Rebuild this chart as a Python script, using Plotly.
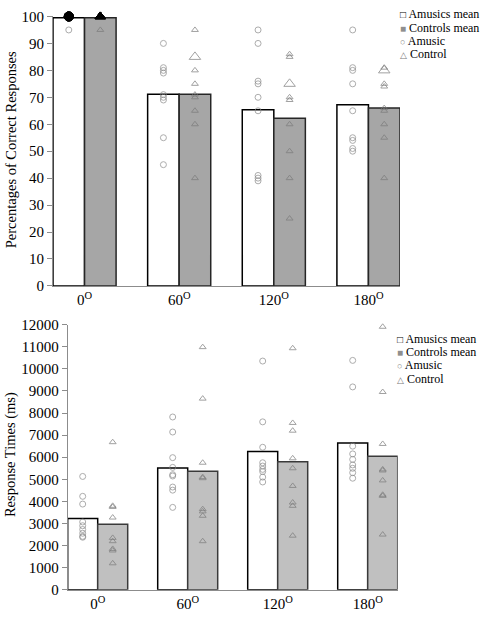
import plotly.graph_objects as go

# ---------------- data ----------------
angles = ["0", "60", "120", "180"]

acc_amusics_mean = [99.5, 71.1, 65.4, 67.2]
acc_controls_mean = [99.5, 71.1, 62.2, 66.0]
acc_amusic = [
    [100, 100, 100, 100, 100, 100, 100, 100, 95],
    [90, 81, 80, 79, 71, 70, 69, 55, 45],
    [95, 90, 76, 75, 70, 65, 41, 40, 39],
    [95, 81, 80, 75, 65, 55, 54, 51, 50],
]
acc_control = [
    [100, 100, 100, 100, 100, 100, 100, 100, 95],
    [95, 85, 80, 75, 71, 70, 65, 60, 40],
    [86, 85, 75, 70, 69, 60, 50, 40, 25],
    [81, 80, 75, 74, 66, 65, 60, 55, 40],
]

rt_amusics_mean = [3230, 5510, 6260, 6640]
rt_controls_mean = [2970, 5360, 5800, 6040]
rt_amusic = [
    [5130, 4230, 3880, 3070, 2900, 2730, 2560, 2420, 2380],
    [7820, 7140, 5980, 5540, 5210, 5150, 4650, 4510, 3730],
    [10350, 7600, 6450, 5750, 5600, 5450, 5350, 5100, 4880],
    [10380, 9180, 6500, 6150, 5900, 5650, 5500, 5300, 5050],
]
rt_control = [
    [6680, 3800, 3750, 3270, 2350, 2200, 1850, 1780, 1200],
    [10980, 8650, 5750, 5100, 5050, 3650, 3550, 3350, 2200],
    [10930, 7550, 7200, 5950, 5500, 4700, 3950, 3800, 2450],
    [11900, 8950, 6600, 5450, 5400, 4950, 4300, 4250, 2500],
]

legend_labels = ["Amusics mean", "Controls mean", "Amusic", "Control"]

# ---------------- styling ----------------
W, H = 484, 618
FONT = "Liberation Serif"
GRAY_LINE = "#8c8c8c"
PT_COL_C = "#8a8a8a"
PT_COL_T = "#7a7a7a"
# individual control points drawn with an enlarged marker in the original
enlarged_control = {(1, 85), (2, 75), (3, 80)}

idx = list(range(len(angles)))
tick_text = [f"{a}<sup>O</sup>" for a in angles]
half = 1 / 6  # centre offset of each bar in a two-bar group with bargap 1/3


def px_x(p):
    return p / W


def px_y(p):
    return 1 - p / H


def scatter_points(groups, side, symbol, color, xa, ya, enlarged=None):
    xs, ys, sizes, fills, lines = [], [], [], [], []
    for i, vals in enumerate(groups):
        for v in vals:
            xs.append(i + side * half)
            ys.append(v)
            dup = vals.count(v)
            if dup >= 3:
                sizes.append(9)
                fills.append("black")
                lines.append("black")
            else:
                big = enlarged is not None and (i, v) in enlarged
                sizes.append(10 if big else 6)
                fills.append("rgba(0,0,0,0)")
                lines.append(color)
    return go.Scatter(
        x=xs, y=ys, mode="markers", xaxis=xa, yaxis=ya, showlegend=False,
        cliponaxis=False, hoverinfo="skip",
        marker=dict(symbol=symbol, size=sizes, color=fills,
                    line=dict(color=lines, width=1)),
    )


fig = go.Figure()

# ---- top panel: accuracy ----
fig.add_trace(go.Bar(x=idx, y=acc_amusics_mean, name=legend_labels[0], xaxis="x", yaxis="y",
                     marker=dict(color="white", line=dict(color="black", width=1.5)),
                     showlegend=False))
fig.add_trace(go.Bar(x=idx, y=acc_controls_mean, name=legend_labels[1], xaxis="x", yaxis="y",
                     marker=dict(color="#a6a6a6", line=dict(color="#262626", width=1.5)),
                     showlegend=False))
fig.add_trace(scatter_points(acc_amusic, -1, "circle", PT_COL_C, "x", "y"))
fig.add_trace(scatter_points(acc_control, 1, "triangle-up", PT_COL_T, "x", "y", enlarged_control))

# ---- bottom panel: response times ----
fig.add_trace(go.Bar(x=idx, y=rt_amusics_mean, name=legend_labels[0], xaxis="x2", yaxis="y2",
                     marker=dict(color="white", line=dict(color="black", width=1.5)),
                     showlegend=False))
fig.add_trace(go.Bar(x=idx, y=rt_controls_mean, name=legend_labels[1], xaxis="x2", yaxis="y2",
                     marker=dict(color="#c0c0c0", line=dict(color="#3a3a3a", width=1.5)),
                     showlegend=False))
fig.add_trace(scatter_points(rt_amusic, -1, "circle", PT_COL_C, "x2", "y2"))
fig.add_trace(scatter_points(rt_control, 1, "triangle-up", PT_COL_T, "x2", "y2"))

tickfont = dict(family=FONT, size=15, color="black")
xcommon = dict(range=[-1 / 3, 3 + 1 / 3], tickmode="array", tickvals=idx, ticktext=tick_text,
               showline=True, linecolor=GRAY_LINE, linewidth=1, ticks="", showgrid=False,
               zeroline=False, tickfont=tickfont, fixedrange=True)
ycommon = dict(showline=True, linecolor=GRAY_LINE, linewidth=1, ticks="outside", ticklen=5,
               tickcolor=GRAY_LINE, showgrid=False, zeroline=False, tickfont=tickfont,
               fixedrange=True, tickformat="d")

fig.update_layout(
    width=W, height=H, autosize=False,
    margin=dict(l=0, r=0, t=0, b=0),
    paper_bgcolor="white", plot_bgcolor="white",
    barmode="group", bargap=1 / 3, bargroupgap=0,
    font=dict(family=FONT, color="black"),
    showlegend=False,
    xaxis=dict(domain=[px_x(53), px_x(400)], anchor="y", **xcommon),
    yaxis=dict(domain=[px_y(285.3), px_y(8.7)], anchor="x", range=[0, 100], dtick=10, **ycommon),
    xaxis2=dict(domain=[px_x(67.7), px_x(397.7)], anchor="y2", **xcommon),
    yaxis2=dict(domain=[px_y(597.3), px_y(325)], anchor="x2", range=[0, 12000], dtick=1000,
                **ycommon),
)

# ---- axis titles ----
ann = []
ann.append(dict(text="Percentages of Correct Responses", x=px_x(11), y=px_y(146),
                xref="paper", yref="paper", xanchor="center", yanchor="middle",
                textangle=-90, showarrow=False,
                font=dict(family=FONT, size=14.5, color="black")))
ann.append(dict(text="Response Times (ms)", x=px_x(10), y=px_y(459),
                xref="paper", yref="paper", xanchor="center", yanchor="middle",
                textangle=-90, showarrow=False,
                font=dict(family=FONT, size=14.5, color="black")))

# ---- legends (glyph + text) ----
glyphs = [
    '<span style="color:black;font-size:10px">□</span>',
    '<span style="color:#8f8f8f;font-size:10px">■</span>',
    '<span style="color:#8a8a8a;font-size:9px">○</span>',
    '<span style="color:#7a7a7a;font-size:9px">△</span>',
]
legend_rows = {"top": (399, [6.5, 20.5, 34, 47.5]), "bottom": (396, [340, 353.5, 367, 380.5])}
for key, (lx, rows) in legend_rows.items():
    for g, lab, ry in zip(glyphs, legend_labels, rows):
        ann.append(dict(text=f"{g} {lab}", x=px_x(lx), y=px_y(ry), xref="paper", yref="paper",
                        xanchor="left", yanchor="middle", showarrow=False, borderpad=0,
                        font=dict(family=FONT, size=12, color="black")))

fig.update_layout(annotations=ann)

fig.write_html(
    "out.html",
    config={"displayModeBar": False, "staticPlot": True},
    post_script="document.body.style.margin='0px';document.body.style.overflow='hidden';",
)
